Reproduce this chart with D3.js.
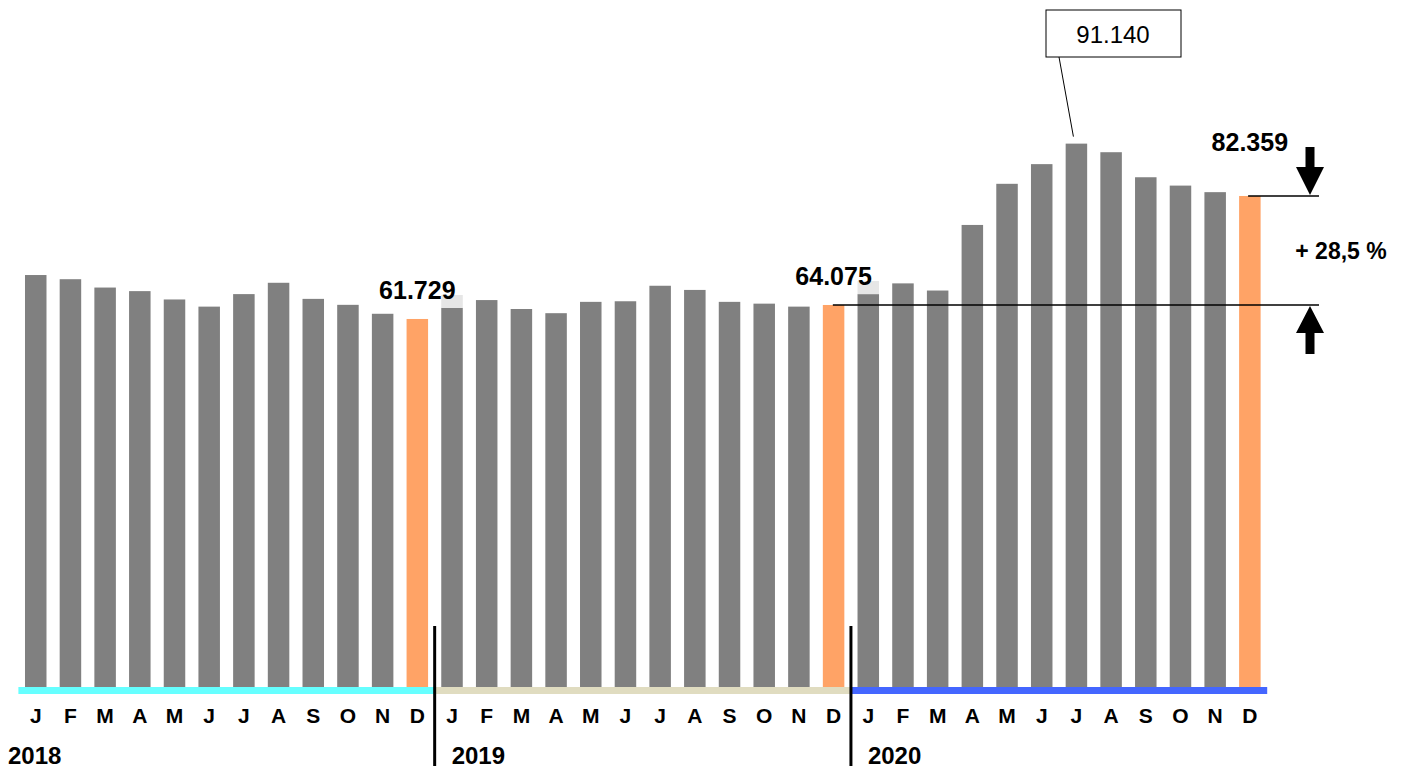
<!DOCTYPE html>
<html>
<head>
<meta charset="utf-8">
<script src="https://cdn.jsdelivr.net/npm/d3@7"></script>
<style>
  body { margin: 0; background: #fff; }
  svg text { font-family: Arial, "Liberation Sans", sans-serif; }
</style>
</head>
<body>
<div id="chart"></div>
<script>
// monthly values (thousands)
let years = ["2018", "2019", "2020"];
let months = ["J", "F", "M", "A", "M", "J", "J", "A", "S", "O", "N", "D"];
let values2018 = [69.1, 68.4, 67.0, 66.4, 65.0, 63.8, 65.9, 67.8, 65.1, 64.1, 62.6, 61.729];
let values2019 = [63.6, 64.9, 63.4, 62.7, 64.6, 64.7, 67.3, 66.6, 64.6, 64.3, 63.8, 64.075];
let values2020 = [65.9, 67.7, 66.5, 77.5, 84.4, 87.7, 91.14, 89.7, 85.5, 84.1, 83.0, 82.359];
let yearLabels = ["61.729", "64.075", "82.359"];
let peakLabel = "91.140";
let changeLabel = "+ 28,5 %";
let yearColors = ["#66ffff", "#e0dcc0", "#4466ff"];

let width = 1407;
let height = 769;
let baseY = 687;

let allValues = [values2018, values2019, values2020];
let data = [];
allValues.forEach((vals, yi) => {
    vals.forEach((v, mi) => {
        data.push({ i: yi * 12 + mi, year: yi, month: months[mi], value: v, december: mi === 11 });
    });
});

let xScale = d3.scaleBand()
    .domain(d3.range(data.length))
    .range([18.4, 1267.2])
    .paddingInner(0.38)
    .paddingOuter(0.19);

let yScale = d3.scaleLinear()
    .domain([0, 100])
    .range([baseY, baseY - 596.2]);

let svg = d3.select("#chart")
    .append("svg")
    .attr("width", width)
    .attr("height", height);

let step = xScale.step();
let x0 = xScale.range()[0];

// bars
svg.selectAll("rect.bar")
    .data(data)
    .join("rect")
    .attr("class", "bar")
    .attr("x", (d) => xScale(d.i))
    .attr("y", (d) => yScale(d.value))
    .attr("width", xScale.bandwidth())
    .attr("height", (d) => baseY - yScale(d.value))
    .attr("fill", (d) => d.december ? "#ffa366" : "#808080");

// coloured year bands under the bars
svg.selectAll("rect.band")
    .data(years)
    .join("rect")
    .attr("class", "band")
    .attr("x", (d, i) => x0 + i * 12 * step)
    .attr("y", baseY)
    .attr("width", 12 * step)
    .attr("height", 7)
    .attr("fill", (d, i) => yearColors[i]);

// month letters
svg.selectAll("text.month")
    .data(data)
    .join("text")
    .attr("class", "month")
    .attr("x", (d) => xScale(d.i) + xScale.bandwidth() / 2)
    .attr("y", 723)
    .attr("text-anchor", "middle")
    .attr("font-size", 21)
    .attr("font-weight", "bold")
    .text((d) => d.month);

// year labels
svg.selectAll("text.year")
    .data(years)
    .join("text")
    .attr("class", "year")
    .attr("x", (d, i) => i === 0 ? 8 : x0 + i * 12 * step + 17)
    .attr("y", 764)
    .attr("font-size", 24)
    .attr("font-weight", "bold")
    .text((d) => d);

// year dividers
[1, 2].forEach((k) => {
    svg.append("line")
        .attr("x1", x0 + k * 12 * step)
        .attr("x2", x0 + k * 12 * step)
        .attr("y1", 626)
        .attr("y2", 766)
        .attr("stroke", "#000")
        .attr("stroke-width", 3);
});

// december value labels
let decs = data.filter((d) => d.december);
decs.forEach((d, k) => {
    let cx = xScale(d.i) + xScale.bandwidth() / 2;
    let ty = k < 2 ? yScale(d.value) - 20 : yScale(d.value) - 45;
    if (k < 2) {
        // light label background showing over the next bar
        let next = data[d.i + 1];
        svg.append("rect")
            .attr("x", xScale(next.i))
            .attr("y", ty - 4)
            .attr("width", xScale.bandwidth())
            .attr("height", yScale(next.value) - (ty - 4))
            .attr("fill", "#e6e6e6");
    }
    svg.append("text")
        .attr("x", cx)
        .attr("y", ty)
        .attr("text-anchor", "middle")
        .attr("font-size", 25)
        .attr("font-weight", "bold")
        .text(yearLabels[k]);
});

// peak callout
let peak = data.reduce((a, b) => (b.value > a.value ? b : a));
let peakX = xScale(peak.i) + xScale.bandwidth() / 2;
svg.append("line")
    .attr("x1", 1059)
    .attr("y1", 57)
    .attr("x2", peakX - 3)
    .attr("y2", yScale(peak.value) - 7)
    .attr("stroke", "#000")
    .attr("stroke-width", 1);
svg.append("rect")
    .attr("x", 1046)
    .attr("y", 10)
    .attr("width", 135)
    .attr("height", 47)
    .attr("fill", "#fff")
    .attr("stroke", "#000")
    .attr("stroke-width", 1);
svg.append("text")
    .attr("x", 1113)
    .attr("y", 43)
    .attr("text-anchor", "middle")
    .attr("font-size", 24)
    .text(peakLabel);

// change markers
let topY = yScale(values2020[11]);
let lowY = yScale(values2019[11]);
let lastDec = decs[2];
svg.append("line")
    .attr("x1", xScale(lastDec.i) + 9)
    .attr("x2", 1319)
    .attr("y1", topY)
    .attr("y2", topY)
    .attr("stroke", "#000")
    .attr("stroke-width", 1.5);
svg.append("line")
    .attr("x1", xScale(decs[1].i) + 10)
    .attr("x2", 1319)
    .attr("y1", lowY)
    .attr("y2", lowY)
    .attr("stroke", "#000")
    .attr("stroke-width", 1.5);

let ax = 1310;
svg.append("path")
    .attr("d", `M${ax - 4.5},${topY - 49} L${ax + 4.5},${topY - 49} L${ax + 4.5},${topY - 29} L${ax + 14},${topY - 29} L${ax},${topY - 1} L${ax - 14},${topY - 29} L${ax - 4.5},${topY - 29} Z`)
    .attr("fill", "#000");
svg.append("path")
    .attr("d", `M${ax - 4.5},${lowY + 49} L${ax + 4.5},${lowY + 49} L${ax + 4.5},${lowY + 28} L${ax + 14},${lowY + 28} L${ax},${lowY + 1} L${ax - 14},${lowY + 28} L${ax - 4.5},${lowY + 28} Z`)
    .attr("fill", "#000");

svg.append("text")
    .attr("x", 1341)
    .attr("y", 259)
    .attr("text-anchor", "middle")
    .attr("font-size", 23)
    .attr("font-weight", "bold")
    .text(changeLabel);
</script>
</body>
</html>
